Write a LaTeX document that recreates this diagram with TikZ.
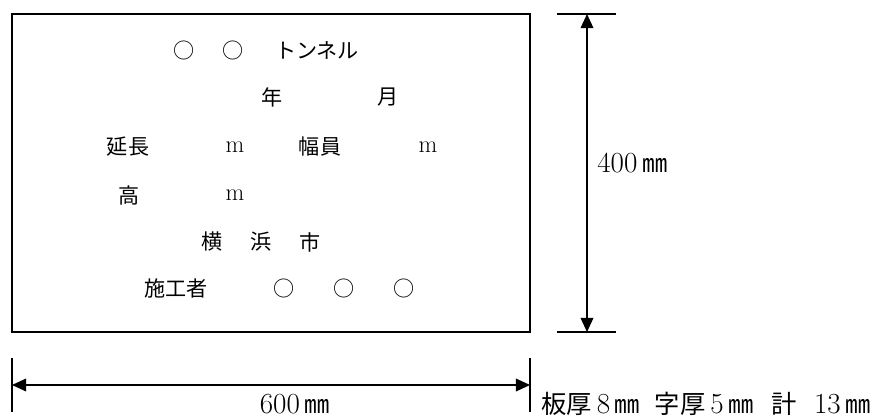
\documentclass[tikz,border=0pt]{standalone}
\usepackage{fontspec}
\setmainfont{Latin Modern Roman}[Scale=1.15]
\newfontfamily\jp{Noto Sans CJK JP}
\usetikzlibrary{arrows.meta}

\begin{document}
\begin{tikzpicture}[x=0.025cm,y=-0.025cm,
  txt/.style={inner sep=0pt,font=\fontsize{15}{18}\selectfont},
  dimtxt/.style={inner sep=0pt,font=\fontsize{18}{21}\selectfont},
  dimline/.style={line width=1pt,{Triangle[length=10pt,width=9pt]}-{Triangle[length=10pt,width=9pt]}},
  tick/.style={line width=1pt}]
\useasboundingbox (0,0) rectangle (893,420);
% plate
\draw[line width=1.3pt] (12,14) rectangle (530,332);
\node[txt] (t1a) at (184,50) {\jp ○};
\node[txt] (t1b) at (233,50) {\jp ○};
\node[txt] (t1c) at (317,50) {\jp トンネル};
\node[txt] (t2a) at (272,97) {\jp 年};
\node[txt] (t2b) at (388,97) {\jp 月};
\node[txt] (t3a) at (128,147) {\jp 延長};
\node[txt] (t3b) at (235,147) {m};
\node[txt] (t3c) at (320,147) {\jp 幅員};
\node[txt] (t3d) at (428,147) {m};
\node[txt] (t4a) at (129,195) {\jp 高};
\node[txt] (t4b) at (235,195) {m};
\node[txt] (t5a) at (212,242) {\jp 横};
\node[txt] (t5b) at (261,242) {\jp 浜};
\node[txt] (t5c) at (310,242) {\jp 市};
\node[txt] (t6a) at (176,288) {\jp 施工者};
\node[txt] (t6b) at (284,288) {\jp ○};
\node[txt] (t6c) at (344,288) {\jp ○};
\node[txt] (t6d) at (404,288) {\jp ○};
% height
\coordinate (hTop) at (587,14);
\coordinate (hBot) at (587,332);
\draw[tick] (557,14) -- (616,14);
\draw[tick] (557,332) -- (616,332);
\draw[dimline] (hTop) -- (hBot);
\node[dimtxt,anchor=west] (hLab) at (597,163) {400\,{\jp ㎜}};
% width
\coordinate (wL) at (12,385);
\coordinate (wR) at (530,385);
\draw[tick] (12,358) -- (12,412);
\draw[tick] (530,358) -- (530,412);
\draw[dimline] (wL) -- (wR);
\node[dimtxt] (wLab) at (295,404) {600\,{\jp ㎜}};
\node[dimtxt,anchor=west] (note) at (541,404) {{\jp 板厚}\,8\,{\jp ㎜}\hspace{0.5em}{\jp 字厚}\,5\,{\jp ㎜}\hspace{0.6em}{\jp 計}\hspace{0.6em}13\,{\jp ㎜}};
\end{tikzpicture}
\end{document}
